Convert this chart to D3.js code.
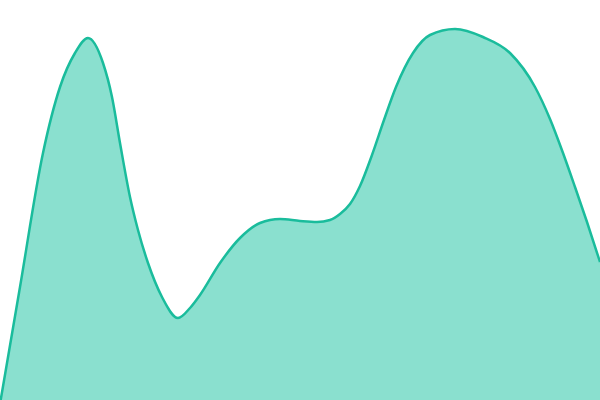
<!DOCTYPE html>
<html>
<head>
<meta charset="utf-8">
<script src="https://cdn.jsdelivr.net/npm/d3@7"></script>
<style>
  html, body { margin: 0; padding: 0; background: #fff; }
  svg { display: block; }
</style>
</head>
<body>
<div id="chart"></div>
<script>
// positions along the x range (0..600) and heights (0..100)
const xValues = [0, 20, 43, 60, 75, 88, 103, 112, 120, 130, 138, 148, 162, 178, 190,
    200, 220, 240, 260, 280, 300, 317, 330, 340, 350, 360, 372, 384, 396, 413,
    430, 455, 483, 510, 535, 550, 563, 575, 587, 600]
const yValues = [-1, 28.25, 61.75, 78.25, 86.75, 90.5, 84.25, 75.75, 64.25, 50.75, 42.5, 34.25, 25.75, 20.5, 23,
    26.25, 34.25, 40.5, 44.25, 45.25, 44.75, 44.5, 45, 46.5, 49, 53.5, 61.25, 70, 78.25, 86.75,
    91.25, 92.75, 90.75, 86.75, 78.25, 70.25, 61.75, 53.25, 44.5, 34.5]

const width = 600, height = 400

const data = xValues.map((x, i) => ({ x, y: yValues[i] }))

const svg = d3.select("#chart")
    .append("svg")
    .attr("width", width)
    .attr("height", height)

const x = d3.scaleLinear()
    .domain([0, 600])
    .range([0, width])

const y = d3.scaleLinear()
    .domain([0, 100])
    .range([height, 0])

const curve = d3.curveMonotoneX

const area = d3.area()
    .x(d => x(d.x))
    .y0(y(0))
    .y1(d => y(d.y))
    .curve(curve)

const line = d3.line()
    .x(d => x(d.x))
    .y(d => y(d.y))
    .curve(curve)

svg.append("path")
    .datum(data)
    .attr("d", area)
    .attr("fill", "#8ae0cf")

svg.append("path")
    .datum(data)
    .attr("d", line)
    .attr("fill", "none")
    .attr("stroke", "#1abc9c")
    .attr("stroke-width", 2.5)
</script>
</body>
</html>
